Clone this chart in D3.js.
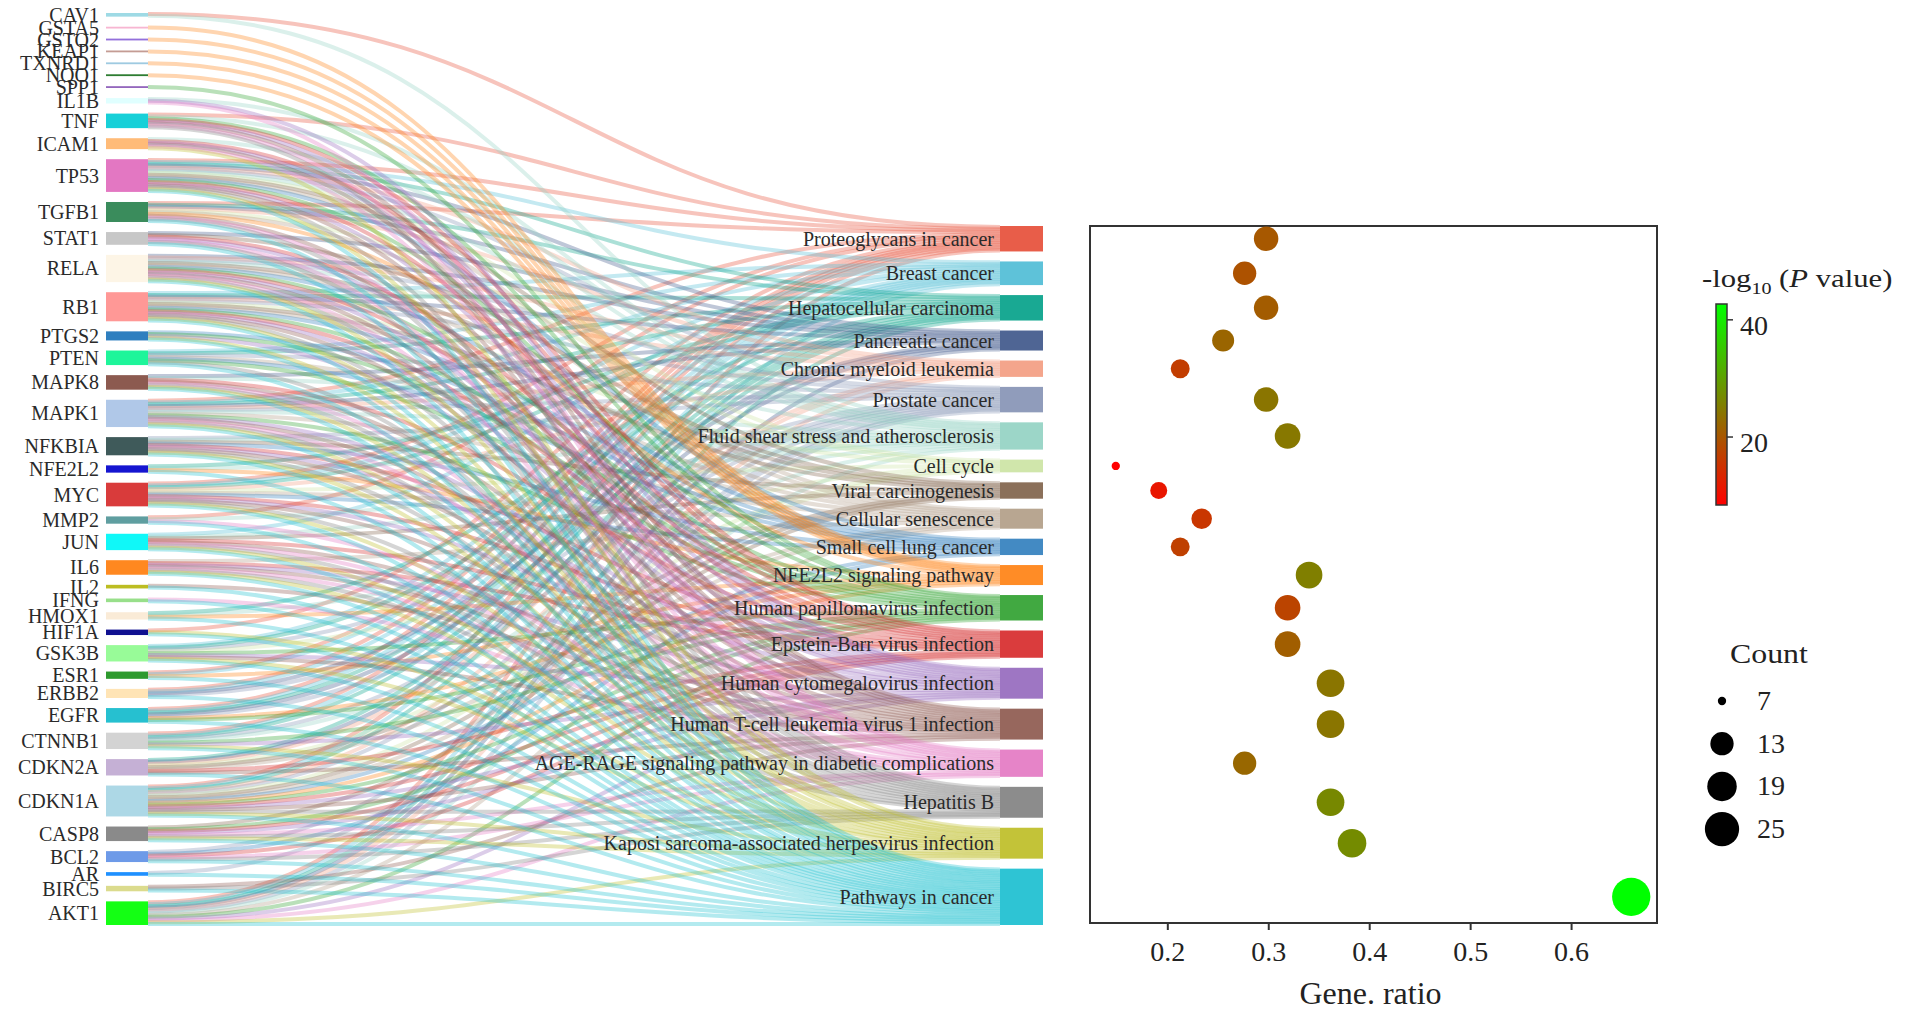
<!DOCTYPE html>
<html>
<head>
<meta charset="utf-8">
<script src="https://cdn.jsdelivr.net/npm/d3@7"></script>
<style>
  body { margin: 0; background: #fff; }
  text { font-family: "Liberation Serif", "Times New Roman", serif; }
</style>
</head>
<body>
<div class="canvas"></div>
<script>
// genes (left column), top to bottom
const genes = ["CAV1","GSTA5","GSTO2","KEAP1","TXNRD1","NQO1","SPP1","IL1B","TNF","ICAM1",
  "TP53","TGFB1","STAT1","RELA","RB1","PTGS2","PTEN","MAPK8","MAPK1","NFKBIA",
  "NFE2L2","MYC","MMP2","JUN","IL6","IL2","IFNG","HMOX1","HIF1A","GSK3B",
  "ESR1","ERBB2","EGFR","CTNNB1","CDKN2A","CDKN1A","CASP8","BCL2","AR","BIRC5","AKT1"]

const geneColors = ["#9edae5","#f7b6d2","#9370db","#c49c94","#9ecae1","#2e7d32","#9467bd","#e0ffff","#17d0d8","#ffbb78",
  "#e377c2","#3a8c5c","#c7c7c7","#fdf5e6","#ff9896","#2f7fbf","#1ef59a","#8c5a50","#b0c8e8","#3f5a5a",
  "#1515d0","#d93b3b","#5f9ea0","#10f8f8","#ff8820","#bcbd22","#98df8a","#faebd7","#101090","#98fb98",
  "#2e9a2e","#ffe4b5","#26c0d0","#d3d3d3","#c5b0d5","#add8e6","#8a8a8a","#6d9ae8","#1e90ff","#dbdb8d","#14ff14"]

// KEGG pathways (right column), top to bottom
const pathways = ["Proteoglycans in cancer","Breast cancer","Hepatocellular carcinoma","Pancreatic cancer",
  "Chronic myeloid leukemia","Prostate cancer","Fluid shear stress and atherosclerosis","Cell cycle",
  "Viral carcinogenesis","Cellular senescence","Small cell lung cancer","NFE2L2 signaling pathway",
  "Human papillomavirus infection","Epstein-Barr virus infection","Human cytomegalovirus infection",
  "Human T-cell leukemia virus 1 infection","AGE-RAGE signaling pathway in diabetic complications",
  "Hepatitis B","Kaposi sarcoma-associated herpesvirus infection","Pathways in cancer"]

const pathwayColors = ["#e64b35","#4dbbd5","#00a087","#3c5488","#f39b7f","#8491b4","#91d1c2","#cbe3a2",
  "#7e6148","#b09c85","#2f7dbd","#ff7f0e","#2ca02c","#d62728","#9467bd","#8c564b","#e377c2","#7f7f7f",
  "#bcbd22","#17becf"]

// genes linked to each pathway
const members = [
  ["CAV1","TNF","TP53","TGFB1","MAPK1","MYC","MMP2","HIF1A","ESR1","ERBB2","EGFR","CTNNB1","CDKN1A","AKT1"],
  ["TP53","RB1","PTEN","MAPK1","MYC","JUN","GSK3B","ESR1","ERBB2","EGFR","CTNNB1","CDKN1A","AKT1"],
  ["TP53","TGFB1","RB1","PTEN","MAPK1","NFE2L2","MYC","HMOX1","GSK3B","EGFR","CTNNB1","CDKN2A","CDKN1A","AKT1"],
  ["TP53","TGFB1","STAT1","RELA","RB1","MAPK8","MAPK1","ERBB2","EGFR","CDKN2A","AKT1"],
  ["TP53","TGFB1","RELA","RB1","MAPK1","MYC","CDKN2A","CDKN1A","AKT1"],
  ["TP53","RELA","RB1","PTEN","MAPK1","NFKBIA","GSK3B","ERBB2","EGFR","CTNNB1","CDKN1A","BCL2","AR","AKT1"],
  ["CAV1","IL1B","TNF","ICAM1","TP53","RELA","MAPK8","MAPK1","NFKBIA","NFE2L2","MMP2","JUN","HMOX1","CTNNB1","AKT1"],
  ["TP53","TGFB1","RB1","MYC","GSK3B","CDKN2A","CDKN1A"],
  ["TP53","STAT1","RELA","RB1","NFKBIA","JUN","CDKN2A","CDKN1A","CASP8"],
  ["TP53","TGFB1","RELA","RB1","PTEN","MAPK1","MYC","IL6","CDKN2A","CDKN1A","AKT1"],
  ["TP53","RELA","RB1","PTGS2","PTEN","NFKBIA","MYC","CDKN1A","BCL2"],
  ["GSTA5","GSTO2","KEAP1","TXNRD1","NQO1","TGFB1","NFE2L2","HMOX1","ESR1","EGFR","CDKN1A"],
  ["SPP1","TNF","TP53","RELA","RB1","PTGS2","PTEN","MAPK1","GSK3B","EGFR","CTNNB1","CDKN1A","CASP8","AKT1"],
  ["TNF","ICAM1","TP53","STAT1","RELA","RB1","MAPK8","NFKBIA","MYC","JUN","IL6","CDKN2A","CDKN1A","CASP8","BCL2"],
  ["IL1B","TNF","ICAM1","TP53","STAT1","RELA","RB1","PTGS2","MAPK1","NFKBIA","MYC","IL6","GSK3B","CTNNB1","CDKN1A","CASP8","AKT1"],
  ["TNF","ICAM1","TP53","TGFB1","RELA","RB1","MAPK8","MAPK1","NFKBIA","MYC","JUN","IL6","IL2","GSK3B","CDKN2A","CDKN1A","BIRC5"],
  ["IL1B","TNF","ICAM1","TGFB1","STAT1","RELA","MAPK8","MAPK1","JUN","IL6","IFNG","MMP2","CASP8","BCL2","AKT1"],
  ["TNF","TP53","TGFB1","STAT1","RELA","RB1","PTEN","MAPK8","MAPK1","NFKBIA","MYC","JUN","IL6","CDKN1A","CASP8","BCL2","BIRC5"],
  ["ICAM1","TP53","RELA","RB1","PTGS2","MAPK8","MAPK1","NFKBIA","MYC","JUN","IL6","HIF1A","GSK3B","CTNNB1","CDKN1A","CASP8","AKT1"],
  ["TP53","TGFB1","STAT1","RELA","RB1","PTGS2","PTEN","MAPK8","MAPK1","NFKBIA","NFE2L2","MYC","MMP2","JUN","IL6","IL2",
   "IFNG","HMOX1","HIF1A","GSK3B","ESR1","ERBB2","EGFR","CTNNB1","CDKN2A","CDKN1A","CASP8","BCL2","AR","BIRC5","AKT1"]
]

// enrichment: gene count per pathway and -log10(P value)
const geneCount = [14,13,14,12,10,14,15,7,9,11,10,16,15,15,17,17,13,17,18,31]
const logP = [20.2,19.4,20.8,22.0,16.6,24.1,24.5,8.4,11.3,15.6,17.0,25.5,17.5,21.1,24.2,24.2,22.2,26.7,27.1,42.7]
const totalGenes = 47

const xTicks = [0.2,0.3,0.4,0.5,0.6]
const colorTicks = [20,40]
const sizeBreaks = [7,13,19,25]

const W = 1905, H = 1011

const svg = d3.select(".canvas").append("svg")
              .attr("width", W)
              .attr("height", H)

// ---------- sankey layout (hand made, d3-sankey is not available) ----------
const links = []
members.forEach(function(list, j){
    list.forEach(function(g){
        links.push({s: genes.indexOf(g), t: j})
    })
})
const N = links.length

const geneX0 = 106, geneX1 = 148
const pathX0 = 1000, pathX1 = 1043
const colBottom = 925, geneTop = 13, pathTop = 226, nodePad = 10

const unit = (colBottom - pathTop - (pathways.length - 1) * nodePad) / N
const hScale = d3.scaleLinear().domain([0, N]).range([0, N * unit])
const genePad = (colBottom - geneTop - hScale(N)) / (genes.length - 1)

const geneNodes = []
let yy = geneTop
genes.forEach(function(g, i){
    const deg = links.filter(l => l.s === i).length
    geneNodes.push({name: g, y0: yy, y1: yy + hScale(deg), color: geneColors[i]})
    yy += hScale(deg) + genePad
})

const pathNodes = []
yy = pathTop
pathways.forEach(function(p, j){
    const deg = members[j].length
    pathNodes.push({name: p, y0: yy, y1: yy + hScale(deg), color: pathwayColors[j]})
    yy += hScale(deg) + nodePad
})

// slot of each link inside its nodes
geneNodes.forEach(function(n, i){
    links.filter(l => l.s === i).sort((a, b) => a.t - b.t)
         .forEach(function(l, k){ l.sy = n.y0 + hScale(k + 0.5) })
})
pathNodes.forEach(function(n, j){
    links.filter(l => l.t === j).sort((a, b) => a.s - b.s)
         .forEach(function(l, k){ l.ty = n.y0 + hScale(k + 0.5) })
})

const linkGen = d3.linkHorizontal()
                  .source(d => [geneX1, d.sy])
                  .target(d => [pathX0, d.ty])

svg.append("g")
   .selectAll("path")
   .data(links)
   .enter().append("path")
   .attr("d", linkGen)
   .attr("fill", "none")
   .attr("stroke", d => pathwayColors[d.t])
   .attr("stroke-opacity", 0.33)
   .attr("stroke-width", 4)

svg.append("g")
   .selectAll("rect")
   .data(geneNodes)
   .enter().append("rect")
   .attr("x", geneX0)
   .attr("y", d => d.y0)
   .attr("width", geneX1 - geneX0)
   .attr("height", d => Math.max(1.5, d.y1 - d.y0))
   .attr("fill", d => d.color)

svg.append("g")
   .selectAll("text")
   .data(geneNodes)
   .enter().append("text")
   .attr("x", geneX0 - 7)
   .attr("y", d => (d.y0 + d.y1) / 2)
   .attr("dy", "0.35em")
   .attr("text-anchor", "end")
   .attr("font-size", 20)
   .attr("fill", "#2a2a2a")
   .text(d => d.name)

svg.append("g")
   .selectAll("rect")
   .data(pathNodes)
   .enter().append("rect")
   .attr("x", pathX0)
   .attr("y", d => d.y0)
   .attr("width", pathX1 - pathX0)
   .attr("height", d => d.y1 - d.y0)
   .attr("fill", d => d.color)
   .attr("opacity", 0.9)

svg.append("g")
   .selectAll("text")
   .data(pathNodes)
   .enter().append("text")
   .attr("x", pathX0 - 6)
   .attr("y", d => (d.y0 + d.y1) / 2)
   .attr("dy", "0.35em")
   .attr("text-anchor", "end")
   .attr("font-size", 20)
   .attr("fill", "#2a2a2a")
   .text(d => d.name)

// ---------- bubble chart ----------
const ratio = geneCount.map(c => c / totalGenes)
const rMin = d3.min(ratio), rMax = d3.max(ratio)
const expand = (rMax - rMin) * 0.05
const boxL = 1090, boxR = 1657, boxT = pathTop, boxB = colBottom - 2

const x = d3.scaleLinear()
            .domain([rMin - expand, rMax + expand])
            .range([boxL, boxR])

const pMin = d3.min(logP), pMax = d3.max(logP)
const color = d3.scaleLinear()
                .domain([pMin, pMax])
                .range(["#ff0000", "#00ff00"])
                .interpolate(d3.interpolateRgb)

const cMin = d3.min(geneCount), cMax = d3.max(geneCount)
const rLin = d3.scaleLinear().domain([0, 1]).range([4.15, 19.15])
const radius = c => rLin(Math.sqrt((c - cMin) / (cMax - cMin)))

svg.append("rect")
   .attr("x", boxL).attr("y", boxT)
   .attr("width", boxR - boxL).attr("height", boxB - boxT)
   .attr("fill", "none")
   .attr("stroke", "#333")
   .attr("stroke-width", 2)

svg.append("g")
   .selectAll("circle")
   .data(pathNodes)
   .enter().append("circle")
   .attr("cx", (d, i) => x(ratio[i]))
   .attr("cy", d => (d.y0 + d.y1) / 2)
   .attr("r", (d, i) => radius(geneCount[i]))
   .attr("fill", (d, i) => color(logP[i]))

const xAxis = svg.append("g")
                 .attr("transform", "translate(0," + boxB + ")")
                 .call(d3.axisBottom(x).tickValues(xTicks).tickSize(7).tickFormat(d3.format(".1f")))
xAxis.select(".domain").remove()
xAxis.selectAll("line").attr("stroke", "#333").attr("stroke-width", 2)
xAxis.selectAll("text")
     .attr("y", 38).attr("dy", 0)
     .attr("font-size", 28)
     .attr("font-family", "Liberation Serif")
     .attr("fill", "#222")

svg.append("text")
   .attr("x", (boxL + boxR) / 2 - 3)
   .attr("y", 1004)
   .attr("text-anchor", "middle")
   .attr("font-size", 32)
   .attr("fill", "#222")
   .text("Gene. ratio")

// ---------- colour legend ----------
const barX = 1716, barW = 11, barTop = 304, barBot = 505
const barScale = d3.scaleLinear().domain([pMin, pMax]).range([barBot, barTop])

const grad = svg.append("defs").append("linearGradient")
                .attr("id", "pgrad")
                .attr("x1", 0).attr("y1", 1).attr("x2", 0).attr("y2", 0)
d3.range(0, 1.01, 0.1).forEach(function(t){
    grad.append("stop")
        .attr("offset", t)
        .attr("stop-color", color(pMin + t * (pMax - pMin)))
})

const title = svg.append("text")
                 .attr("transform", "translate(1702,287) scale(1.18,1)")
                 .attr("font-size", 26)
                 .attr("fill", "#222")
title.append("tspan").text("-log")
title.append("tspan").attr("font-size", 17).attr("dy", 7).text("10")
title.append("tspan").attr("dy", -7).text(" (")
title.append("tspan").attr("font-style", "italic").text("P")
title.append("tspan").text(" value)")

svg.append("rect")
   .attr("x", barX).attr("y", barTop)
   .attr("width", barW).attr("height", barBot - barTop)
   .attr("fill", "url(#pgrad)")
   .attr("stroke", "#333")
   .attr("stroke-width", 1.5)

svg.append("g")
   .selectAll("line")
   .data(colorTicks)
   .enter().append("line")
   .attr("x1", barX + barW).attr("x2", barX + barW + 6)
   .attr("y1", d => barScale(d)).attr("y2", d => barScale(d))
   .attr("stroke", "#333")
   .attr("stroke-width", 1.5)

svg.append("g")
   .selectAll("text")
   .data(colorTicks)
   .enter().append("text")
   .attr("x", 1740)
   .attr("y", d => barScale(d) + 15)
   .attr("font-size", 28)
   .attr("fill", "#222")
   .text(d => d)

// ---------- size legend ----------
svg.append("text")
   .attr("transform", "translate(1730,663) scale(1.18,1)")
   .attr("font-size", 27)
   .attr("fill", "#222")
   .text("Count")

svg.append("g")
   .selectAll("circle")
   .data(sizeBreaks)
   .enter().append("circle")
   .attr("cx", 1722)
   .attr("cy", (d, i) => 701 + i * 42.7)
   .attr("r", d => radius(d))
   .attr("fill", "#000")

svg.append("g")
   .selectAll("text")
   .data(sizeBreaks)
   .enter().append("text")
   .attr("x", 1757)
   .attr("y", (d, i) => 701 + i * 42.7 + 9)
   .attr("font-size", 28)
   .attr("fill", "#222")
   .text(d => d)
</script>
</body>
</html>
